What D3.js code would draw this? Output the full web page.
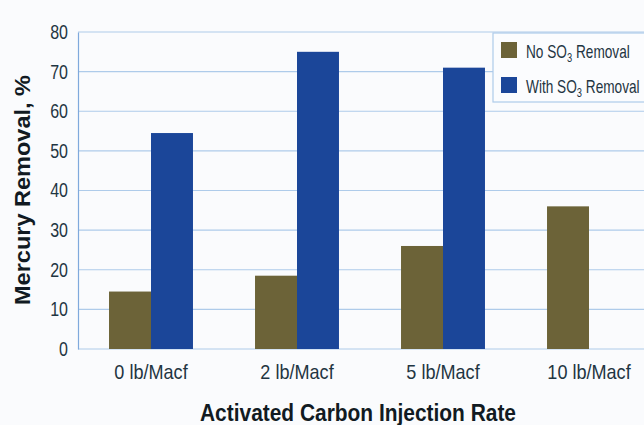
<!DOCTYPE html>
<html><head><meta charset="utf-8">
<script src="https://cdn.jsdelivr.net/npm/d3@7"></script>
<style>
html,body{margin:0;padding:0;background:#fafbfd;}
svg{display:block;}
text{font-family:"Liberation Sans",Arial,sans-serif;}
</style></head>
<body><svg id="chart" width="644" height="425"></svg>
<script>
const categories = ["0 lb/Macf","2 lb/Macf","5 lb/Macf","10 lb/Macf"];
const seriesNames = ["No SO3 Removal","With SO3 Removal"];
const noSO3 = [14.5, 18.5, 26, 36];
const withSO3 = [54.5, 75, 71, null];
const yTicks = [0,10,20,30,40,50,60,70,80];
const colors = ["#6c6338","#1b4699"];

const svg = d3.select("#chart");
const x0 = d3.scaleBand().domain(categories).range([78, 662]).paddingInner(0.425).paddingOuter(0.2125);
const x1 = d3.scaleBand().domain(seriesNames).range([0, x0.bandwidth()]);
const y = d3.scaleLinear().domain([0,80]).range([349,32]);

function condense(sel, f){
  sel.each(function(){
    const w = this.getComputedTextLength();
    d3.select(this).attr("textLength", w*f).attr("lengthAdjust","spacingAndGlyphs");
  });
}

// gridlines
svg.append("g").selectAll("line").data(yTicks).join("line")
  .attr("x1",78).attr("x2",644).attr("y1",d=>y(d)).attr("y2",d=>y(d))
  .attr("stroke","#aecbea").attr("stroke-width",1.1);

// bars
const data = categories.map((c,i)=>({c, vals:[noSO3[i], withSO3[i]]}));
const g = svg.append("g").selectAll("g").data(data).join("g")
  .attr("transform",d=>`translate(${x0(d.c)},0)`);
g.selectAll("rect").data(d=>d.vals.map((v,j)=>({v, s:seriesNames[j], j})).filter(e=>e.v!=null))
  .join("rect")
  .attr("x",e=>x1(e.s)).attr("width",x1.bandwidth())
  .attr("y",e=>y(e.v)).attr("height",e=>y(0)-y(e.v))
  .attr("fill",e=>colors[e.j]);

// y axis
const yAxis = d3.axisLeft(y).tickValues(yTicks).tickSize(0).tickPadding(10);
const ya = svg.append("g").attr("transform","translate(78,0)").call(yAxis);
ya.select(".domain").attr("stroke","#7fa9dc").attr("stroke-width",1.2);
ya.selectAll("text").attr("font-size",20).attr("fill","#1f3542")
  .attr("font-family","'Liberation Sans',sans-serif");
condense(ya.selectAll("text"), 0.8);

// x axis
const xAxis = d3.axisBottom(x0).tickSize(0).tickPadding(15);
const xa = svg.append("g").attr("transform",`translate(0,${y(0)})`).call(xAxis);
xa.select(".domain").remove();
xa.selectAll("text").attr("font-size",21).attr("fill","#1f3542")
  .attr("font-family","'Liberation Sans',sans-serif");
condense(xa.selectAll("text"), 0.86);

// axis titles
svg.append("text").attr("transform","translate(30,190) rotate(-90)")
  .attr("text-anchor","middle").attr("font-size",22).attr("font-weight","bold")
  .attr("fill","#111a22").attr("textLength",230).attr("lengthAdjust","spacingAndGlyphs")
  .text("Mercury Removal, %");
svg.append("text").attr("x",358).attr("y",421)
  .attr("text-anchor","middle").attr("font-size",23).attr("font-weight","bold")
  .attr("fill","#111a22").attr("textLength",316).attr("lengthAdjust","spacingAndGlyphs")
  .text("Activated Carbon Injection Rate");

// legend
const lg = svg.append("g");
lg.append("rect").attr("x",493).attr("y",33).attr("width",170).attr("height",69)
  .attr("fill","#fbfcfe").attr("stroke","#aecbea").attr("stroke-width",1.2);
seriesNames.forEach((n,i)=>{
  const yy = 42 + i*35;
  lg.append("rect").attr("x",501).attr("y",yy).attr("width",16).attr("height",16).attr("fill",colors[i]);
  const t = lg.append("text").attr("transform",`translate(526,${yy+16}) scale(0.78,1)`)
    .attr("font-size",17.5).attr("fill","#1f3542");
  const parts = n.split("SO3");
  t.append("tspan").text(parts[0]+"SO");
  t.append("tspan").attr("font-size",12).attr("dy",4).text("3");
  t.append("tspan").attr("dy",-4).text(parts[1]);
});
</script></body></html>
